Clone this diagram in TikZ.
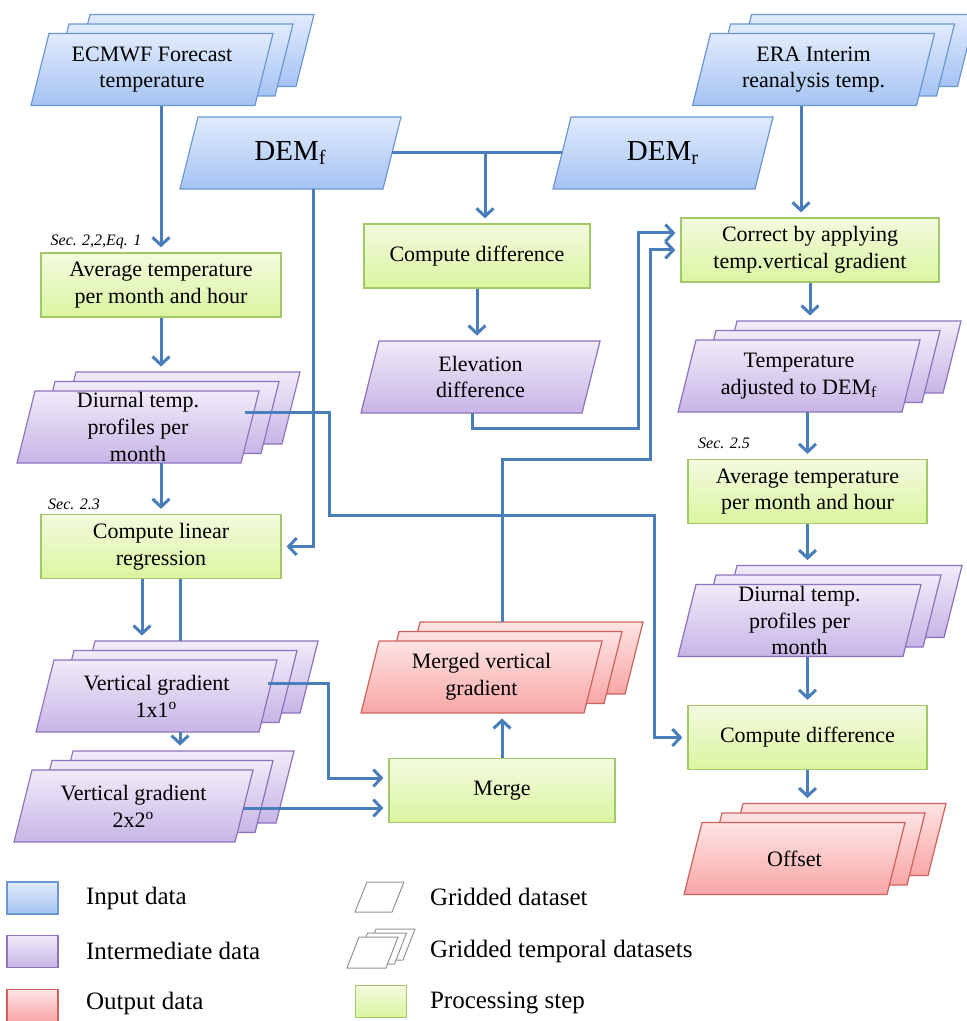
\documentclass[tikz,border=0pt]{standalone}
\usepackage{fontspec}
\setmainfont{Liberation Serif}
\usetikzlibrary{arrows.meta, calc, positioning}

\definecolor{inline}{HTML}{6B97D3}
\definecolor{intop}{HTML}{E1EBFD}
\definecolor{inbot}{HTML}{A5C3F3}
\definecolor{midline}{HTML}{8E72BC}
\definecolor{midtop}{HTML}{F0EBF9}
\definecolor{midbot}{HTML}{C7B5E6}
\definecolor{outred}{HTML}{D0625E}
\definecolor{outtop}{HTML}{FDE3E3}
\definecolor{outbot}{HTML}{F8A7A6}
\definecolor{stepline}{HTML}{A3C867}
\definecolor{steptop}{HTML}{F3FADF}
\definecolor{stepbot}{HTML}{DAF5A0}
\definecolor{flowblue}{HTML}{4A7EBB}

\newcommand{\boxfont}{\fontsize{11}{13.4}\selectfont}
\newcommand{\demfont}{\fontsize{14.5}{17}\selectfont}
\newcommand{\secfont}{\fontsize{8}{9.6}\selectfont\itshape}
\newcommand{\legfont}{\fontsize{12.5}{15}\selectfont}

% parallelogram: style, centre, half width, half height, slant
\newcommand{\para}[5]{%
  \path[#1] ($#2+(-#3,#4)$) -- ($#2+(#3-#5,#4)$) -- ($#2+(#3,-#4)$)
    -- ($#2+(#5-#3,-#4)$) -- cycle;
}
% one sheet with a named node on it: style, name, centre, half width
\newcommand{\sheet}[4]{%
  \para{#1}{#3}{#4}{36}{18}
  \node[sheetnode, minimum width={#4pt-9pt}] (#2) at #3 {};
}
% three stacked sheets: style, name, centre, half width, text
\newcommand{\gstack}[5]{%
  \sheet{#1}{#2-c}{($#3+(41,-19)$)}{#4}
  \sheet{#1}{#2-b}{($#3+(20,-9.5)$)}{#4}
  \sheet{#1}{#2}{#3}{#4}
  \node[txt] at (#2) {#5};
}

\tikzset{
  sheetnode/.style={rectangle, minimum height=36pt, inner sep=0pt},
  indata/.style={draw=inline, top color=intop, bottom color=inbot, line width=0.6pt},
  middata/.style={draw=midline, top color=midtop, bottom color=midbot, line width=0.6pt},
  outdata/.style={draw=outred, top color=outtop, bottom color=outbot, line width=0.6pt},
  procbox/.style={rectangle, draw=stepline, top color=steptop, bottom color=stepbot,
    line width=0.6pt, minimum height=32pt, inner sep=2pt, align=center, font=\boxfont},
  legsheet/.style={draw=gray!85, fill=white, line width=0.5pt},
  legsq/.style={rectangle, minimum width=25.5pt, minimum height=16pt, inner sep=0pt,
    line width=0.6pt},
  txt/.style={align=center, font=\boxfont},
  sectxt/.style={font=\secfont},
  legtxt/.style={anchor=west, font=\legfont},
  flow/.style={draw=flowblue, line width=1.5pt, shorten >=2.5pt,
    -{Straight Barb[length=4pt, width=8.5pt]}},
  link/.style={draw=flowblue, line width=1.5pt},
}

\begin{document}
\begin{tikzpicture}[x=0.5pt, y=-0.5pt]
  \useasboundingbox (0,0) rectangle (966,1021);

  % inputs
  \gstack{indata}{ecm}{(152,69.5)}{121}{ECMWF Forecast\\temperature}
  \gstack{indata}{era}{(813.5,69.5)}{121}{ERA Interim\\reanalysis temp.}
  \sheet{indata}{demf}{(290.5,153)}{110.5}
  \node[font=\demfont] at (demf) {DEM\textsubscript{f}};
  \sheet{indata}{demr}{(663,153)}{110}
  \node[font=\demfont] at (demr) {DEM\textsubscript{r}};

  % processing steps
  \node[procbox, minimum width=120pt] (avgl) at (161,285) {Average temperature\\per month and hour};
  \node[procbox, minimum width=120pt] (lreg) at (161,546.5) {Compute linear\\regression};
  \node[procbox, minimum width=113pt] (cdiff) at (477,256) {Compute difference};
  \node[procbox, minimum width=129pt] (corr) at (810,250) {Correct by applying\\temp.vertical gradient};
  \node[procbox, minimum width=119.5pt] (avgr) at (807.5,491.5) {Average temperature\\per month and hour};
  \node[procbox, minimum width=119.5pt] (cdiff2) at (807.5,737.5) {Compute difference};
  \node[procbox, minimum width=113pt] (merge) at (502,790.5) {Merge};

  % intermediate and output data
  \sheet{middata}{elev}{(480.5,377)}{119.5}
  \node[txt] at (elev) {Elevation\\difference};
  \gstack{middata}{dil}{(138,427)}{121}{Diurnal temp.\\profiles per\\month}
  \gstack{middata}{tadj}{(799,376)}{121}{Temperature\\adjusted to DEM\textsubscript{f}}
  \gstack{middata}{diur}{(799.5,620.5)}{121.5}{Diurnal temp.\\profiles per\\month}
  \gstack{middata}{vg1}{(156.5,696)}{120.5}{Vertical gradient\\1x1\textsuperscript{o}}
  \gstack{middata}{vg2}{(133.5,806)}{119.5}{Vertical gradient\\2x2\textsuperscript{o}}
  \gstack{outdata}{mvg}{(481.5,677)}{120.5}{Merged vertical\\gradient}
  \gstack{outdata}{off}{(794.5,858.5)}{110.5}{Offset}

  % section labels
  \node[sectxt] (s1) at (96,242) {Sec. 2,2,Eq. 1};
  \node[sectxt] (s2) at (74,504) {Sec. 2.3};
  \node[sectxt] (s3) at (724,443) {Sec. 2.5};

  % bend points
  \coordinate (d1) at ([xshift=53.5pt, yshift=7.5pt]dil.center);
  \coordinate (bend1) at (329,515);
  \coordinate (bend2) at (654,515);
  \coordinate (df) at ([xshift=11.25pt]demf.south);
  \coordinate (dj) at ([xshift=4pt]cdiff.north);
  \coordinate (e1) at (638,428);
  \coordinate (m0) at (merge.north |- mvg-c.north);
  \coordinate (m1) at (650,459);
  \coordinate (v1) at ([xshift=55.75pt, yshift=6.5pt]vg1.center);
  \coordinate (v1b) at (328,683);
  \coordinate (v2) at ([xshift=54.75pt, yshift=-1pt]vg2.center);
  \coordinate (lr1) at ([xshift=-9.5pt]lreg.south);
  \coordinate (lr2) at ([xshift=9.5pt]lreg.south);
  \coordinate (ea) at ([xshift=-4.5pt]corr.north);

  % left column
  \draw[flow] (ecm.south -| avgl.north) -- (avgl.north);
  \draw[flow] (avgl.south) -- (avgl.south |- dil-c.north);
  \draw[flow] (dil.south -| lreg.north) -- (lreg.north);
  \draw[flow] (lr1) -- (lr1 |- vg1-c.north);
  \draw[link] (lr2) -- (lr2 |- vg1-c.north);
  \draw[flow] (vg1.south -| lr2) -- (lr2 |- vg2-c.north);
  \draw[flow] (df) |- (lreg.east);

  % middle
  \draw[link] (demf.east) -- (demr.west);
  \draw[flow] (demf.east -| dj) -- (dj);
  \draw[flow] (cdiff.south) -- (cdiff.south |- elev.north);
  \draw[flow] ([xshift=-4pt]elev.south) |- (e1) |- ([yshift=8.5pt]corr.west);
  \draw[flow] (v1) -- (v1b) |- ([yshift=6.25pt]merge.west);
  \draw[flow] (v2) -- (v2 -| merge.west);
  \draw[flow] (merge.north) -- (merge.north |- mvg.south);
  \draw[flow] (m0) |- (m1) |- (corr.west);
  \draw[flow] (d1) -| (bend1) -| (bend2) |- (cdiff2.west);

  % right column
  \draw[flow] (era.south -| ea) -- (ea);
  \draw[flow] (corr.south) -- (corr.south |- tadj-c.north);
  \draw[flow] (tadj.south -| avgr.north) -- (avgr.north);
  \draw[flow] (avgr.south) -- (avgr.south |- diur-c.north);
  \draw[flow] (diur.south -| cdiff2.north) -- (cdiff2.north);
  \draw[flow] (cdiff2.south) -- (cdiff2.south |- off-c.north);

  % legend
  \node[legsq, draw=inline, top color=intop, bottom color=inbot] (lgin) at (32.5,898) {};
  \node[legsq, draw=midline, top color=midtop, bottom color=midbot] (lgmid) at (32.5,951.5) {};
  \node[legsq, draw=outred, top color=outtop, bottom color=outbot] (lgout) at (32.5,1005.5) {};
  \node[legtxt] (ltin) at (79,898) {Input data};
  \node[legtxt] (ltmid) at (79,951) {Intermediate data};
  \node[legtxt] (ltout) at (79,1003) {Output data};

  \para{legsheet}{(379.5,897)}{24.5}{15}{12}
  \para{legsheet}{(389.5,944.5)}{25.5}{15.5}{12}
  \para{legsheet}{(381,948.5)}{25.5}{15.5}{12}
  \para{legsheet}{(372.5,952.5)}{25.5}{15.5}{12}
  \node[legsq, draw=stepline, top color=steptop, bottom color=stepbot] (lgstep) at (381,1001.5) {};
  \node[legtxt] (ltgrid) at (423,897) {Gridded dataset};
  \node[legtxt] (ltgt) at (423,951) {Gridded temporal datasets};
  \node[legtxt] (ltstep) at (423,1003) {Processing step};
\end{tikzpicture}
\end{document}
